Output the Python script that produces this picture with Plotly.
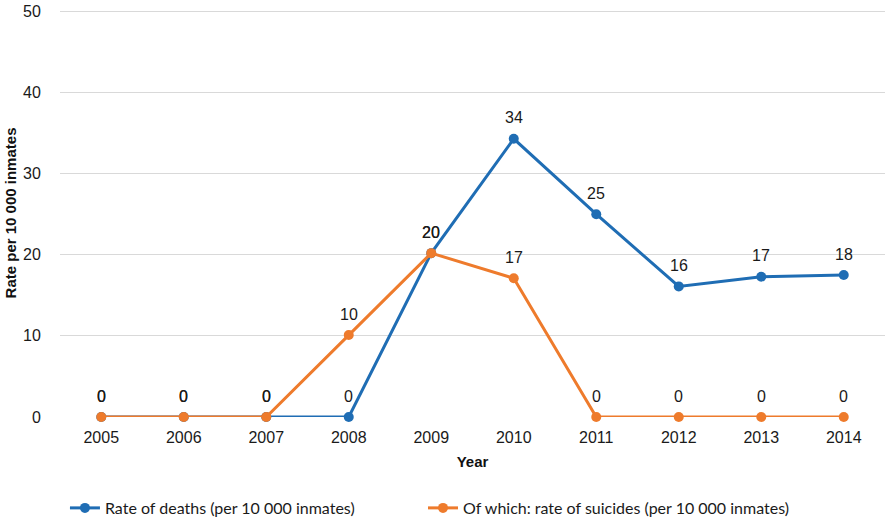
import plotly.graph_objects as go

years = ["2005", "2006", "2007", "2008", "2009", "2010", "2011", "2012", "2013", "2014"]
deaths = [0, 0, 0, 0, 20.2, 34.3, 25.0, 16.1, 17.3, 17.5]
suicides = [0, 0, 0, 10.1, 20.2, 17.1, 0, 0, 0, 0]
deaths_labels = ["0", "0", "0", "0", "20", "34", "25", "16", "17", "18"]
suicides_labels = ["0", "0", "0", "10", "20", "17", "0", "0", "0", "0"]
y_ticks = [0, 10, 20, 30, 40, 50]

blue = "#1f6db4"
orange = "#ee7b2c"
label_font = dict(family="Liberation Sans, Arial", size=16, color="#1a1a1a")
legend_font = dict(family="Lato, Open Sans", size=16, color="#1a1a1a")

fig = go.Figure()
fig.add_trace(go.Scatter(
    x=years, y=deaths, mode="lines+markers",
    name="Rate of deaths (per 10 000 inmates)",
    line=dict(color=blue, width=3), marker=dict(color=blue, size=10),
    cliponaxis=False, legend="legend",
))
fig.add_trace(go.Scatter(
    x=years, y=suicides, mode="lines+markers",
    name="Of which: rate of suicides (per 10 000 inmates)",
    line=dict(color=orange, width=3), marker=dict(color=orange, size=10),
    cliponaxis=False, legend="legend2",
))

annotations = []
for ys, labels in [(deaths, deaths_labels), (suicides, suicides_labels)]:
    for i, (yv, t) in enumerate(zip(ys, labels)):
        annotations.append(dict(
            x=i, y=yv, xref="x", yref="y", text=t, showarrow=False,
            yshift=21, font=label_font,
        ))

fig.update_layout(
    width=885, height=518,
    margin=dict(l=60, r=0, t=9, b=101, autoexpand=False),
    paper_bgcolor="white", plot_bgcolor="white",
    font=dict(family="Liberation Sans, Arial", size=16, color="#1a1a1a"),
    showlegend=True,
    annotations=annotations,
    legend=dict(
        orientation="h", x=0.006, xanchor="left", y=-0.223, yanchor="middle",
        font=legend_font, itemwidth=30,
    ),
    legend2=dict(
        orientation="h", x=0.440, xanchor="left", y=-0.223, yanchor="middle",
        font=legend_font, itemwidth=30,
    ),
    xaxis=dict(
        type="category", categoryorder="array", categoryarray=years,
        range=[-0.5, len(years) - 0.5],
        showgrid=False, showline=False,
        ticks="outside", ticklen=6, tickcolor="rgba(0,0,0,0)", automargin=False,
        title=dict(text="<b>Year</b>", font=dict(family="Liberation Sans, Arial", size=15, color="#111111"), standoff=11),
        tickfont=dict(size=16, color="#1a1a1a"),
    ),
    yaxis=dict(
        range=[0, 50.3], tickmode="array", tickvals=y_ticks,
        showgrid=True, gridcolor="#d9d9d9", gridwidth=1,
        zeroline=False, showline=False,
        ticks="outside", ticklen=15, tickcolor="rgba(0,0,0,0)", automargin=False,
        title=dict(text="<b>Rate per 10 000 inmates</b>", font=dict(family="Liberation Sans, Arial", size=15, color="#111111"), standoff=2),
        tickfont=dict(size=16, color="#1a1a1a"),
    ),
)

fig.write_html("out.html", post_script="document.body.style.margin='0px';",
               config={"displayModeBar": False})
